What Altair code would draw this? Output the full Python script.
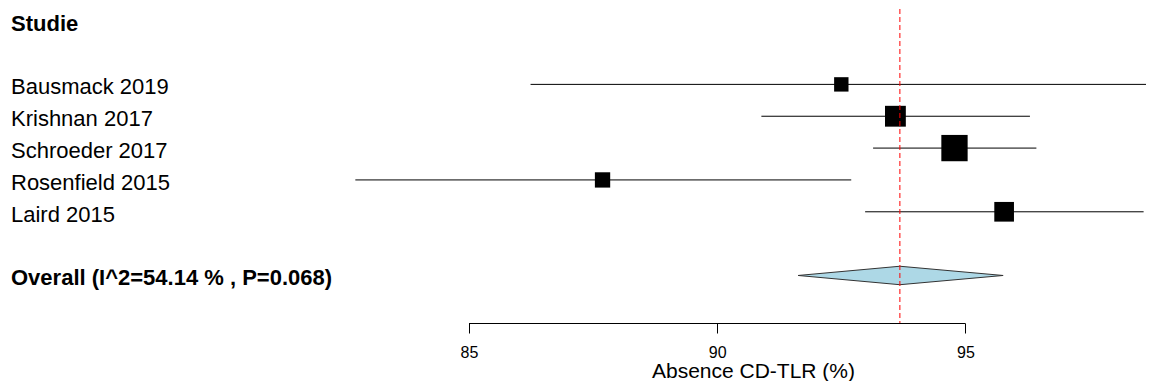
import altair as alt
import pandas as pd

# ---- data ----
studies = ["Bausmack 2019", "Krishnan 2017", "Schroeder 2017", "Rosenfield 2015", "Laird 2015"]
est = [92.50, 93.59, 94.78, 87.69, 95.78]
lo = [86.24, 90.89, 93.14, 82.71, 92.98]
hi = [99.30, 96.30, 96.43, 92.70, 98.59]
weights = [10.6, 22.2, 35.4, 12.0, 19.8]

overall_label = "Overall (I^2=54.14 % , P=0.068)"
overall_est = 93.68
overall_lo = 91.63
overall_hi = 95.76

header_label = "Studie"
x_ticks = [85, 90, 95]
x_title = "Absence CD-TLR (%)"

# ---- layout / style ----
FONT = "Liberation Sans, Arial, sans-serif"
W, H = 1138, 314
X_DOMAIN = [75.713, 98.638]
Y_DOMAIN = [-1.367, 8.492]
DIAMOND_HALF = 0.29

n = len(studies)
df = pd.DataFrame({
    "study": studies, "est": est, "lo": lo, "hi": hi,
    "weight": weights, "row": list(range(1, n + 1)),
})
overall_row = n + 2
header_row = -1

xs = alt.Scale(domain=X_DOMAIN, nice=False, zero=False)
ys = alt.Scale(domain=Y_DOMAIN, nice=False, zero=False, reverse=True)

x_axis = alt.Axis(
    values=x_ticks, domain=False, grid=False, ticks=True, tickSize=10,
    tickColor="black", tickWidth=1, labelFont=FONT, labelFontSize=16,
    labelColor="black", labelPadding=11, labelFlush=False, format="d",
    title=x_title, titleFont=FONT, titleFontSize=21, titleFontWeight="normal",
    titleColor="black", titleX=745, titleY=54, titleAlign="center",
    titleBaseline="alphabetic",
)

base = alt.Chart(df)

ci = base.mark_rule(color="black", strokeWidth=1, clip=True).encode(
    x=alt.X("lo:Q", scale=xs, axis=x_axis),
    x2="hi:Q",
    y=alt.Y("row:Q", scale=ys, axis=None),
)

sq = base.mark_square(color="black", opacity=1, filled=True).encode(
    x=alt.X("est:Q", scale=xs, axis=x_axis),
    y=alt.Y("row:Q", scale=ys, axis=None),
    size=alt.Size("weight:Q", scale=alt.Scale(domain=[0, max(weights)], range=[0, 692]), legend=None),
)

dia_df = pd.DataFrame({
    "x": [overall_lo, overall_est, overall_hi],
    "top": [overall_row, overall_row - DIAMOND_HALF, overall_row],
    "bottom": [overall_row, overall_row + DIAMOND_HALF, overall_row],
})
dia = alt.Chart(dia_df).mark_area(
    fill="#ADD8E6", stroke="#333333", strokeWidth=1, opacity=1,
    interpolate="linear", orient="vertical",
).encode(
    x=alt.X("x:Q", scale=xs, axis=x_axis),
    y=alt.Y("top:Q", scale=ys, axis=None),
    y2="bottom:Q",
)

ref = alt.Chart(pd.DataFrame({"v": [overall_est]})).mark_rule(
    color="red", strokeDash=[5, 3], strokeWidth=1
).encode(x=alt.X("v:Q", scale=xs, axis=x_axis))

ax_df = pd.DataFrame({"a": [min(x_ticks)], "b": [max(x_ticks)], "r": [Y_DOMAIN[1]]})
axline = alt.Chart(ax_df).mark_rule(color="black", strokeWidth=1, yOffset=0.5).encode(
    x=alt.X("a:Q", scale=xs, axis=x_axis),
    x2="b:Q",
    y=alt.Y("r:Q", scale=ys, axis=None),
)

text = base.mark_text(
    align="left", baseline="middle", font=FONT, fontSize=22, color="black", dy=3
).encode(
    x=alt.value(3),
    y=alt.Y("row:Q", scale=ys, axis=None),
    text="study:N",
)

bold_df = pd.DataFrame({"label": [header_label, overall_label], "row": [header_row, overall_row]})
bold = alt.Chart(bold_df).mark_text(
    align="left", baseline="middle", font=FONT, fontSize=22, fontWeight="bold",
    color="black", dy=3
).encode(
    x=alt.value(3),
    y=alt.Y("row:Q", scale=ys, axis=None),
    text="label:N",
)

chart = alt.layer(ci, sq, dia, axline, text, bold, ref).properties(
    width=W, height=H, padding=0
).configure(background="white").configure_view(stroke=None, strokeWidth=0)

chart.save("out.html", embed_options={"renderer": "svg", "actions": False})
